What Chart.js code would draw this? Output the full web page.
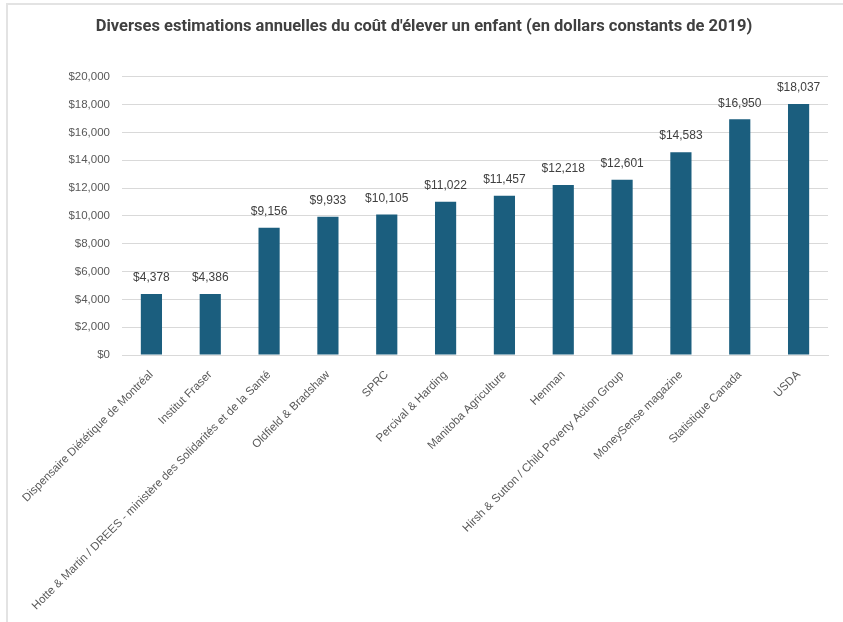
<!DOCTYPE html>
<html>
<head>
<meta charset="utf-8">
<script src="https://cdn.jsdelivr.net/npm/chart.js@4"></script>
<style>
  body { margin: 0; background: #fff; }
  #wrap { position: relative; width: 843px; height: 622px; }
  #frame { position: absolute; left: 6px; top: 3px; right: 0; bottom: 0; border-left: 2px solid #e3e3e3; border-top: 2px solid #e3e3e3; }
  canvas { position: absolute; left: 0; top: 0; }
</style>
</head>
<body>
<div id="wrap">
  <div id="frame"></div>
  <canvas id="costChart" width="843" height="622"></canvas>
</div>
<script>
const categories = [
    'Dispensaire Diététique de Montréal',
    'Institut Fraser',
    'Hotte & Martin / DREES - ministère des Solidarités et de la Santé',
    'Oldfield & Bradshaw',
    'SPRC',
    'Percival & Harding',
    'Manitoba Agriculture',
    'Henman',
    'Hirsh & Sutton / Child Poverty Action Group',
    'MoneySense magazine',
    'Statistique Canada',
    'USDA'
];
const costs = [4378, 4386, 9156, 9933, 10105, 11022, 11457, 12218, 12601, 14583, 16950, 18037];
const yMax = 20000;
const yStep = 2000;

function money(v) {
    return '$' + v.toLocaleString('en-US');
}

// draw the value above each bar
const valueLabels = {
    id: 'valueLabels',
    afterDatasetsDraw(chart) {
        const ctx = chart.ctx;
        const meta = chart.getDatasetMeta(0);
        ctx.save();
        ctx.font = '12px "Liberation Sans", Arial, sans-serif';
        ctx.fillStyle = '#404040';
        ctx.textAlign = 'center';
        ctx.textBaseline = 'bottom';
        meta.data.forEach(function (bar, i) {
            ctx.fillText(money(costs[i]), bar.x, bar.y - 10);
        });
        ctx.restore();
    }
};

document.addEventListener('DOMContentLoaded', function () {
    const ctx = document.getElementById('costChart').getContext('2d');
    new Chart(ctx, {
        type: 'bar',
        data: {
            labels: categories,
            datasets: [{
                data: costs,
                backgroundColor: '#1b5e7e',
                barPercentage: 0.36,
                categoryPercentage: 1
            }]
        },
        options: {
            responsive: false,
            animation: false,
            layout: { padding: { left: 20, right: 15, top: 0, bottom: 0 } },
            plugins: {
                legend: { display: false },
                tooltip: { enabled: false },
                title: {
                    display: true,
                    text: "Diverses estimations annuelles du coût d'élever un enfant (en dollars constants de 2019)",
                    color: '#404040',
                    font: { family: 'Roboto, sans-serif', size: 16.5, weight: 'bold' },
                    padding: { top: 17, bottom: 40 }
                }
            },
            scales: {
                x: {
                    grid: { display: false },
                    border: { color: '#d9d9d9' },
                    ticks: {
                        color: '#595959',
                        font: { family: '"Liberation Sans", Arial, sans-serif', size: 11.5 },
                        minRotation: 45,
                        maxRotation: 45,
                        autoSkip: false,
                        padding: 5
                    },
                    afterFit: function (scale) { scale.height = 267; }
                },
                y: {
                    min: 0,
                    max: yMax,
                    grid: { color: '#d9d9d9', drawTicks: false },
                    border: { display: false },
                    ticks: {
                        stepSize: yStep,
                        color: '#595959',
                        font: { family: '"Liberation Sans", Arial, sans-serif', size: 11.5 },
                        padding: 12,
                        callback: function (v) { return money(v); }
                    },
                    afterFit: function (scale) { scale.width = 102; }
                }
            }
        },
        plugins: [valueLabels]
    });
});
</script>
</body>
</html>
